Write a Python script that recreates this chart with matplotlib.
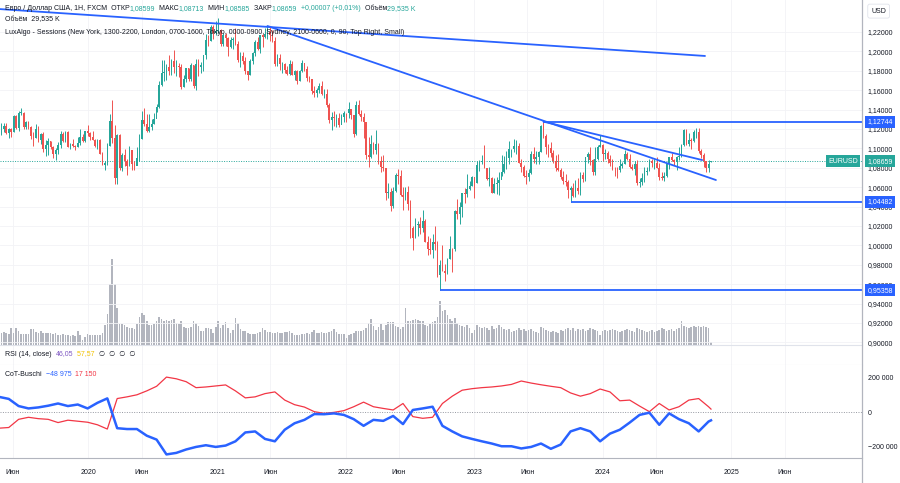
import numpy as np
import pandas as pd
import matplotlib
matplotlib.use("Agg")
import matplotlib.pyplot as plt
import matplotlib.dates as mdates
from matplotlib.lines import Line2D
import matplotlib.transforms as mtrans

plt.rcParams['font.family'] = ['Liberation Sans', 'DejaVu Sans']

# ---------------- data ----------------
first_week = "2019-04-22"
first_open = 1.1245
last_open = 1.08599

closes = [
    # 2019
    1.1150, 1.1200, 1.1235, 1.1157, 1.1205, 1.1170, 1.1333, 1.1210, 1.1370, 1.1370,
    1.1225, 1.1270, 1.1220, 1.1127, 1.1110, 1.1200, 1.1090, 1.1145, 1.0990, 1.1030,
    1.1075, 1.1015, 1.0940, 1.0980, 1.1040, 1.1145, 1.1080, 1.1165, 1.1018, 1.1050,
    1.1020, 1.1015, 1.1060, 1.1120, 1.1080, 1.1175, 1.1160,
    # 2020
    1.1120, 1.1090, 1.1025, 1.1090, 1.0945, 1.0830, 1.0845, 1.1025, 1.1285, 1.1105,
    1.0690, 1.1140, 1.0800, 1.0935, 1.0875, 1.0820, 1.0980, 1.0840, 1.0820, 1.0900,
    1.1100, 1.1290, 1.1255, 1.1180, 1.1220, 1.1250, 1.1300, 1.1425, 1.1655, 1.1780,
    1.1785, 1.1840, 1.1795, 1.1905, 1.1840, 1.1845, 1.1840, 1.1630, 1.1715, 1.1825,
    1.1720, 1.1860, 1.1645, 1.1875, 1.1835, 1.1855, 1.1965, 1.2120, 1.2110, 1.2255,
    1.2185, 1.2215,
    # 2021
    1.2220, 1.2080, 1.2170, 1.2135, 1.2045, 1.2120, 1.2120, 1.2075, 1.1915, 1.1950,
    1.1905, 1.1795, 1.1760, 1.1900, 1.1980, 1.2095, 1.2020, 1.2165, 1.2145, 1.2180,
    1.2195, 1.2165, 1.2105, 1.1865, 1.1935, 1.1865, 1.1875, 1.1810, 1.1770, 1.1870,
    1.1760, 1.1795, 1.1700, 1.1795, 1.1880, 1.1815, 1.1725, 1.1720, 1.1595, 1.1570,
    1.1600, 1.1645, 1.1560, 1.1565, 1.1445, 1.1290, 1.1320, 1.1315, 1.1315, 1.1240,
    1.1325, 1.1370,
    # 2022
    1.1360, 1.1410, 1.1345, 1.1145, 1.1450, 1.1350, 1.1320, 1.1270, 1.0930, 1.0910,
    1.1050, 1.0985, 1.1050, 1.0875, 1.0810, 1.0800, 1.0545, 1.0550, 1.0410, 1.0560,
    1.0730, 1.0720, 1.0515, 1.0495, 1.0555, 1.0425, 1.0180, 1.0080, 1.0210, 1.0220,
    1.0180, 1.0255, 1.0040, 0.9965, 0.9955, 1.0040, 1.0015, 0.9690, 0.9800, 0.9740,
    0.9720, 0.9860, 0.9965, 0.9960, 1.0355, 1.0325, 1.0400, 1.0535, 1.0530, 1.0585,
    1.0615, 1.0705,
    # 2023
    1.0645, 1.0830, 1.0855, 1.0875, 1.0795, 1.0680, 1.0695, 1.0545, 1.0635, 1.0640,
    1.0670, 1.0760, 1.0840, 1.0905, 1.0990, 1.0990, 1.1020, 1.1020, 1.0850, 1.0805,
    1.0720, 1.0710, 1.0750, 1.0940, 1.0895, 1.0910, 1.0965, 1.1230, 1.1125, 1.1015,
    1.1005, 1.0950, 1.0870, 1.0795, 1.0775, 1.0700, 1.0660, 1.0655, 1.0575, 1.0590,
    1.0510, 1.0595, 1.0565, 1.0730, 1.0685, 1.0915, 1.0940, 1.0885, 1.0760, 1.0895,
    1.1010, 1.1040,
    # 2024
    1.0940, 1.0950, 1.0895, 1.0850, 1.0790, 1.0785, 1.0775, 1.0820, 1.0835, 1.0940,
    1.0890, 1.0810, 1.0790, 1.0835, 1.0640, 1.0655, 1.0695, 1.0760, 1.0770, 1.0870,
    1.0845, 1.0850, 1.0800, 1.0705, 1.0690, 1.0715, 1.0840, 1.0910, 1.0880, 1.0855,
    1.0910, 1.0920, 1.1030, 1.1190, 1.1050, 1.1085, 1.1075, 1.1165, 1.1165, 1.0975,
    1.0935, 1.0865, 1.0795, 1.0835, 1.08659,
]

highs = [
    1.1265, 1.1265, 1.1265, 1.1265, 1.1215, 1.1215, 1.1348, 1.1345, 1.1385, 1.1412,
    1.1380, 1.1285, 1.1285, 1.1230, 1.1165, 1.1250, 1.1230, 1.1160, 1.1165, 1.1085,
    1.1110, 1.1075, 1.1025, 1.1000, 1.1065, 1.1180, 1.1165, 1.1175, 1.1175, 1.1060,
    1.1095, 1.1030, 1.1115, 1.1200, 1.1145, 1.1180, 1.1240,
    1.1170, 1.1175, 1.1100, 1.1100, 1.1095, 1.0965, 1.0865, 1.1055, 1.1355, 1.1495,
    1.1240, 1.1150, 1.1145, 1.0950, 1.0990, 1.0890, 1.1020, 1.0980, 1.0875, 1.1010,
    1.1145, 1.1385, 1.1420, 1.1350, 1.1350, 1.1305, 1.1370, 1.1455, 1.1690, 1.1910,
    1.1915, 1.1865, 1.1965, 1.1925, 1.2011, 1.1915, 1.1885, 1.1870, 1.1755, 1.1830,
    1.1830, 1.1880, 1.1860, 1.1920, 1.1920, 1.1890, 1.1965, 1.2175, 1.2165, 1.2275,
    1.2270, 1.2310,
    1.2349, 1.2230, 1.2190, 1.2190, 1.2150, 1.2150, 1.2145, 1.2243, 1.2110, 1.1990,
    1.1990, 1.1945, 1.1800, 1.1925, 1.1995, 1.2115, 1.2150, 1.2170, 1.2180, 1.2245,
    1.2265, 1.2255, 1.2218, 1.2150, 1.1975, 1.1975, 1.1895, 1.1880, 1.1850, 1.1910,
    1.1900, 1.1805, 1.1805, 1.1810, 1.1910, 1.1885, 1.1845, 1.1750, 1.1720, 1.1640,
    1.1625, 1.1670, 1.1690, 1.1615, 1.1610, 1.1465, 1.1375, 1.1385, 1.1355, 1.1360,
    1.1350, 1.1385,
    1.1370, 1.1482, 1.1395, 1.1335, 1.1485, 1.1495, 1.1395, 1.1365, 1.1235, 1.1120,
    1.1135, 1.1070, 1.1185, 1.1055, 1.0925, 1.0935, 1.0800, 1.0640, 1.0595, 1.0605,
    1.0750, 1.0785, 1.0775, 1.0600, 1.0605, 1.0615, 1.0465, 1.0200, 1.0280, 1.0255,
    1.0295, 1.0370, 1.0270, 1.0095, 1.0080, 1.0115, 1.0195, 1.0050, 0.9850, 0.9999,
    0.9810, 0.9875, 1.0095, 0.9975, 1.0365, 1.0480, 1.0450, 1.0545, 1.0595, 1.0735,
    1.0660, 1.0715,
    1.0710, 1.0875, 1.0885, 1.0930, 1.1033, 1.0800, 1.0805, 1.0705, 1.0690, 1.0700,
    1.0760, 1.0930, 1.0925, 1.0975, 1.1075, 1.0990, 1.1095, 1.1090, 1.1060, 1.0890,
    1.0825, 1.0780, 1.0790, 1.0970, 1.1010, 1.0975, 1.0975, 1.1245, 1.1276, 1.1150,
    1.1045, 1.1065, 1.0985, 1.0930, 1.0945, 1.0800, 1.0770, 1.0735, 1.0675, 1.0610,
    1.0640, 1.0670, 1.0695, 1.0755, 1.0755, 1.0915, 1.0965, 1.1015, 1.0895, 1.1010,
    1.1040, 1.1140,
    1.1045, 1.0995, 1.0970, 1.0935, 1.0895, 1.0810, 1.0805, 1.0890, 1.0855, 1.0980,
    1.0965, 1.0942, 1.0840, 1.0875, 1.0885, 1.0690, 1.0750, 1.0810, 1.0810, 1.0895,
    1.0895, 1.0890, 1.0915, 1.0850, 1.0760, 1.0760, 1.0845, 1.0915, 1.0950, 1.0895,
    1.0925, 1.1010, 1.1045, 1.1200, 1.1200, 1.1155, 1.1110, 1.1190, 1.1215, 1.1210,
    1.0995, 1.0955, 1.0870, 1.0885, 1.08713,
]

lows = [
    1.1110, 1.1135, 1.1165, 1.1150, 1.1105, 1.1115, 1.1165, 1.1200, 1.1180, 1.1345,
    1.1205, 1.1195, 1.1200, 1.1102, 1.1027, 1.1105, 1.1065, 1.1050, 1.0965, 1.0925,
    1.0927, 1.0990, 1.0905, 1.0880, 1.0940, 1.1000, 1.1070, 1.1070, 1.1010, 1.0990,
    1.1010, 1.0980, 1.1010, 1.1040, 1.1065, 1.1065, 1.1125,
    1.1085, 1.1085, 1.1015, 1.0990, 1.0940, 1.0825, 1.0777, 1.0830, 1.1025, 1.1055,
    1.0636, 1.0635, 1.0780, 1.0770, 1.0815, 1.0727, 1.0815, 1.0780, 1.0775, 1.0870,
    1.0870, 1.1095, 1.1235, 1.1170, 1.1165, 1.1185, 1.1255, 1.1375, 1.1420, 1.1640,
    1.1695, 1.1710, 1.1755, 1.1755, 1.1780, 1.1750, 1.1735, 1.1612, 1.1630, 1.1685,
    1.1690, 1.1690, 1.1622, 1.1603, 1.1745, 1.1780, 1.1800, 1.1925, 1.2060, 1.2110,
    1.2130, 1.2170,
    1.2190, 1.2055, 1.2055, 1.2060, 1.1952, 1.2040, 1.2020, 1.2065, 1.1895, 1.1835,
    1.1875, 1.1762, 1.1704, 1.1760, 1.1870, 1.1950, 1.2015, 1.1985, 1.2050, 1.2135,
    1.2130, 1.2105, 1.2095, 1.1845, 1.1850, 1.1807, 1.1780, 1.1780, 1.1752, 1.1755,
    1.1755, 1.1705, 1.1665, 1.1690, 1.1790, 1.1800, 1.1700, 1.1680, 1.1565, 1.1530,
    1.1525, 1.1575, 1.1555, 1.1515, 1.1430, 1.1265, 1.1185, 1.1235, 1.1225, 1.1220,
    1.1265, 1.1275,
    1.1270, 1.1310, 1.1305, 1.1122, 1.1140, 1.1340, 1.1280, 1.1105, 1.0890, 1.0805,
    1.0900, 1.0945, 1.0945, 1.0835, 1.0755, 1.0765, 1.0470, 1.0490, 1.0350, 1.0390,
    1.0555, 1.0630, 1.0510, 1.0360, 1.0470, 1.0365, 1.0075, 0.9952, 1.0075, 1.0095,
    1.0120, 1.0140, 1.0035, 0.9900, 0.9910, 0.9865, 0.9955, 0.9670, 0.9536, 0.9735,
    0.9630, 0.9705, 0.9855, 0.9730, 0.9940, 1.0270, 1.0225, 1.0290, 1.0440, 1.0500,
    1.0575, 1.0610,
    1.0485, 1.0640, 1.0765, 1.0835, 1.0795, 1.0670, 1.0615, 1.0535, 1.0535, 1.0525,
    1.0515, 1.0715, 1.0745, 1.0790, 1.0835, 1.0910, 1.0960, 1.0940, 1.0845, 1.0760,
    1.0705, 1.0635, 1.0665, 1.0735, 1.0845, 1.0835, 1.0835, 1.0960, 1.1110, 1.0945,
    1.0910, 1.0910, 1.0845, 1.0765, 1.0770, 1.0685, 1.0630, 1.0615, 1.0490, 1.0448,
    1.0495, 1.0500, 1.0525, 1.0515, 1.0655, 1.0665, 1.0850, 1.0830, 1.0725, 1.0725,
    1.0885, 1.1010,
    1.0875, 1.0895, 1.0845, 1.0820, 1.0775, 1.0720, 1.0695, 1.0760, 1.0795, 1.0835,
    1.0880, 1.0800, 1.0775, 1.0725, 1.0625, 1.0600, 1.0625, 1.0650, 1.0725, 1.0765,
    1.0805, 1.0790, 1.0800, 1.0670, 1.0670, 1.0665, 1.0710, 1.0790, 1.0870, 1.0825,
    1.0775, 1.0880, 1.0915, 1.1025, 1.1040, 1.1025, 1.0995, 1.1070, 1.1110, 1.0955,
    1.0905, 1.0810, 1.0760, 1.0760, 1.08585,
]

volume_k = [
    130, 120, 130, 120, 110, 170, 120, 170, 140, 110,
    110, 110, 110, 160, 160, 130, 120, 140, 120, 120,
    120, 120, 110, 120, 100, 100, 110, 100, 100, 90,
    100, 90, 140, 100, 50, 80, 110, 100, 100, 100,
    100, 100, 120, 200, 310, 610, 860, 610, 370, 210,
    210, 200, 180, 170, 170, 160, 210, 280, 320, 300,
    240, 200, 200, 210, 240, 280, 260, 240, 250, 240,
    250, 260, 220, 210, 240, 180, 170, 170, 180, 240,
    220, 190, 140, 140, 170, 170, 160, 120, 180, 240,
    170, 200, 230, 170, 120, 150, 270, 220, 160, 140,
    140, 120, 110, 110, 110, 120, 130, 170, 150, 130,
    130, 120, 120, 130, 120, 120, 130, 130, 140, 120,
    100, 100, 100, 110, 110, 120, 110, 130, 150, 120,
    120, 130, 120, 120, 130, 140, 160, 130, 110, 110,
    110, 70, 100, 110, 120, 140, 140, 140, 150, 170,
    220, 260, 190, 150, 180, 210, 150, 200, 230, 230,
    230, 190, 180, 160, 180, 370, 240, 240, 250, 260,
    250, 240, 240, 200, 190, 210, 230, 240, 280, 440,
    340, 350, 300, 260, 240, 270, 220, 200, 190, 180,
    200, 170, 120,
    150, 200, 180, 170, 180, 170, 150, 190, 160, 170,
    200, 180, 160, 150, 160, 130, 140, 150, 170, 150,
    160, 140, 150, 160, 140, 130, 120, 180, 170, 150,
    140, 130, 140, 130, 120, 150, 140, 160, 170, 150,
    170, 140, 160, 150, 160, 140, 150, 170, 160, 150,
    140, 100,
    140, 150, 140, 150, 160, 150, 140, 130, 140, 150,
    160, 150, 140, 130, 170, 160, 150, 140, 130, 140,
    150, 130, 140, 150, 170, 160, 140, 150, 160, 140,
    160, 170, 240, 190, 180, 170, 180, 190, 180, 190,
    180, 190, 180, 170, 29.535,
]

# CoT-Buschi, thousands of contracts, one value every 4 weeks (last = latest week)
cot_step = 4
cot_blue_k = [
    89, 77, 35, 21, 27, 37, 50, 35, 44, 21, 54, 80, -95, -100, -100, -139,
    -162, -249, -240, -220, -205, -195, -205, -197, -172, -120, -114, -158,
    -172, -104, -66, -46, -12, -13, -8, -17, -42, -81, -46, -52, -23, -71,
    12, 21, 31, -81, -114, -143, -158, -172, -185, -201, -201, -214, -205,
    -185, -216, -191, -114, -95, -114, -172, -127, -104, -62, -17, -4, -75,
    -8, -42, -66, -114, -56, -48.975,
]
cot_red_k = [
    -95, -91, -43, -31, -39, -43, -62, -48, -54, -60, -75, -100, 79, 89, 101,
    124, 151, 205, 195, 178, 143, 147, 153, 159, 124, 83, 89, 108, 118, 70,
    43, 29, 2, -8, -2, 8, 31, 58, 31, 21, 12, 50, -27, -37, -31, 50, 93, 128,
    137, 143, 147, 153, 162, 182, 170, 160, 151, 143, 112, 93, 108, 135, 118,
    66, 70, 35, 2, 50, 12, 31, 70, 79, 31, 17.15,
]

time_labels = [("2019-06-01", "Июн"), ("2020-01-01", "2020"), ("2020-06-01", "Июн"),
               ("2021-01-01", "2021"), ("2021-06-01", "Июн"), ("2022-01-01", "2022"),
               ("2022-06-01", "Июн"), ("2023-01-01", "2023"), ("2023-06-01", "Июн"),
               ("2024-01-01", "2024"), ("2024-06-01", "Июн"), ("2025-01-01", "2025"),
               ("2025-06-01", "Июн")]

price_ticks = [0.90, 0.92, 0.94, 0.96, 0.98, 1.00, 1.02, 1.04, 1.06, 1.08,
               1.10, 1.12, 1.14, 1.16, 1.18, 1.20, 1.22]
cot_ticks = [200000, 0, -200000]
cot_tick_labels = ["200 000", "0", "\u2212200 000"]

# horizontal levels: (start, price)
levels = [("2023-07-17", 1.12744), ("2023-10-02", 1.04482), ("2022-09-26", 0.95358)]
# trend lines: ((date, price), (date, price))
trends = [(("2019-04-22", 1.2437), ("2024-10-18", 1.1953)),
          (("2021-05-24", 1.2262), ("2024-11-18", 1.0674)),
          (("2023-07-17", 1.1276), ("2024-10-10", 1.0880))]

last_price = 1.08659

# ---------------- colours ----------------
UP = '#26a69a'
DOWN = '#ef5350'
BLUE = '#2962ff'
TXT = '#131722'
GRID = '#f2f3f6'
SEP = '#e0e3eb'

# ---------------- figure ----------------
W, H = 900, 483
fig = plt.figure(figsize=(W / 100, H / 100), dpi=100)
fig.patch.set_facecolor('white')
RIGHT = 862


def rect(top, bottom):
    return [0, 1 - bottom / H, RIGHT / W, (bottom - top) / H]


ax = fig.add_axes(rect(0, 345))
axv = ax.twinx()
ax_rsi = fig.add_axes(rect(345, 365))
ax_cot = fig.add_axes(rect(365, 458))

weeks = pd.date_range(first_week, periods=len(closes), freq="7D")
xd = mdates.date2num(weeks)
last_x = xd[-1]
px_days = 7 / 2.464
xlim = (last_x - 711 * px_days, last_x + 151 * px_days)

opens = [first_open] + closes[:-1]
opens[-1] = last_open
o = np.array(opens)
c = np.array(closes)
h = np.array(highs)
l = np.array(lows)
colors = np.where(c >= o, UP, DOWN)

# volume (behind)
axv.bar(xd, volume_k, width=4.6, color='#b2b5be', linewidth=0, zorder=1)
axv.set_ylim(0, 3450)
axv.set_yticks([])
for s in axv.spines.values():
    s.set_visible(False)
ax.set_zorder(axv.get_zorder() + 1)
ax.patch.set_visible(False)
axv.patch.set_facecolor('white')

# candles
ax.vlines(xd, l, h, colors=colors, linewidth=0.7, zorder=3)
ax.bar(xd, np.maximum(np.abs(c - o), 0.0003), bottom=np.minimum(o, c), width=4.6,
       color=colors, linewidth=0, zorder=4)

ax.set_xlim(*xlim)
axv.set_xlim(*xlim)
ax.set_ylim(0.8973, 1.2530)

# grid
tick_x = [mdates.date2num(pd.Timestamp(d)) for d, _ in time_labels]
for a in (axv,):
    for tx in tick_x:
        a.axvline(tx, color=GRID, linewidth=0.6, zorder=0)
for a in (ax_rsi, ax_cot):
    for tx in tick_x:
        a.axvline(tx, color=GRID, linewidth=0.6, zorder=0)
for p in price_ticks:
    ax.axhline(p, color=GRID, linewidth=0.6, zorder=0)

# price scale
ax.yaxis.tick_right()
ax.set_yticks(price_ticks)
ax.set_yticklabels([f"{p:.5f}".replace('.', ',') for p in price_ticks])
ax.tick_params(axis='y', length=0, pad=4, labelsize=5, labelcolor=TXT)
ax.set_xticks([])
for s in ax.spines.values():
    s.set_visible(False)
ax.spines['bottom'].set_visible(True)
ax.spines['bottom'].set_color(SEP)
ax.spines['bottom'].set_linewidth(0.8)

# current price dotted line
ax.axhline(last_price, color=UP, linewidth=0.7, linestyle=(0, (1, 1.5)), zorder=2)

# levels
for d, p in levels:
    ax.hlines(p, mdates.date2num(pd.Timestamp(d)), xlim[1], color=BLUE, linewidth=1.3, zorder=5)
# trend lines
for (d1, p1), (d2, p2) in trends:
    ax.plot([mdates.date2num(pd.Timestamp(d1)), mdates.date2num(pd.Timestamp(d2))], [p1, p2],
            color=BLUE, linewidth=1.3, zorder=5, solid_capstyle='round')

# price labels on scale
for d, p in levels:
    ax.annotate(f"{p:.5f}".replace('.', ','), xy=(1, p), xycoords=('axes fraction', 'data'),
                xytext=(4, 0), textcoords='offset points', ha='left', va='center',
                fontsize=5, color='white', zorder=20, annotation_clip=False,
                bbox=dict(boxstyle='square,pad=0.35', fc=BLUE, ec='none'))
ax.annotate(f"{last_price:.5f}".replace('.', ','), xy=(1, last_price),
            xycoords=('axes fraction', 'data'), xytext=(4, 0), textcoords='offset points',
            ha='left', va='center', fontsize=5, color='white', zorder=20, annotation_clip=False,
            bbox=dict(boxstyle='square,pad=0.35', fc=UP, ec='none'))
ax.annotate("EURUSD", xy=(1, last_price), xycoords=('axes fraction', 'data'),
            xytext=(-3, 0), textcoords='offset points', ha='right', va='center',
            fontsize=5, color='white', zorder=20, annotation_clip=False,
            bbox=dict(boxstyle='square,pad=0.35', fc=UP, ec='none'))
ax.annotate("USD", xy=(1, 1), xycoords='axes fraction', xytext=(12, -8),
            textcoords='offset points', ha='center', va='center', fontsize=5, color=TXT,
            annotation_clip=False,
            bbox=dict(boxstyle='round,pad=0.5,rounding_size=0.3', fc='white', ec=SEP, lw=0.6))


# legends
def chain(axis, x, y, parts, fs=5):
    t = axis.text(x, y, parts[0][0], color=parts[0][1], fontsize=fs, transform=axis.transAxes,
                  va='center', ha='left', zorder=30)
    for s, col in parts[1:]:
        t = axis.annotate(s, xy=(1, 0.5), xycoords=t, va='center', ha='left', color=col,
                          fontsize=fs, zorder=30)


def yfrac(axis_top, axis_bottom, ypx):
    return 1 - (ypx - axis_top) / (axis_bottom - axis_top)


chain(ax, 5 / RIGHT, yfrac(0, 345, 9), [
    ("Евро / Доллар США, 1Н, FXCM  ОТКР", TXT), ("1,08599", UP), ("  МАКС", TXT),
    ("1,08713", UP), ("  МИН", TXT), ("1,08585", UP), ("  ЗАКР", TXT), ("1,08659", UP),
    ("  +0,00007 (+0,01%)", UP), ("  Объём", TXT), ("29,535 K", UP)])
chain(ax, 5 / RIGHT, yfrac(0, 345, 20), [("Объём  29,535 K", TXT)])
chain(ax, 5 / RIGHT, yfrac(0, 345, 32), [
    ("LuxAlgo - Sessions (New York, 1300-2200, London, 0700-1600, Tokyo, 0000-0900, "
     "Sydney, 2100-0600, 0, 90, Top Right, Small)", TXT)])

# RSI pane (collapsed)
ax_rsi.set_xlim(*xlim)
ax_rsi.set_ylim(0, 1)
ax_rsi.set_xticks([])
ax_rsi.set_yticks([])
for s in ax_rsi.spines.values():
    s.set_visible(False)
ax_rsi.spines['bottom'].set_visible(True)
ax_rsi.spines['bottom'].set_color(SEP)
chain(ax_rsi, 5 / RIGHT, 0.55, [("RSI (14, close)  ", TXT), ("46,05", '#7e57c2'),
                                ("  57,57", '#f2c200'), ("  \u2205  \u2205  \u2205  \u2205", TXT)])

# CoT pane
cot_x = list(xd[::cot_step]) + [xd[-1]]
ax_cot.plot(cot_x, np.array(cot_red_k) * 1000, color='#f23645', linewidth=0.9, zorder=3)
ax_cot.plot(cot_x, np.array(cot_blue_k) * 1000, color=BLUE, linewidth=1.8, zorder=4)
ax_cot.axhline(0, color='#9598a1', linewidth=0.7, linestyle=(0, (1, 1.5)), zorder=2)
ax_cot.set_xlim(*xlim)
ax_cot.set_ylim(-270000, 276000)
ax_cot.yaxis.tick_right()
ax_cot.set_yticks(cot_ticks)
ax_cot.set_yticklabels(cot_tick_labels)
ax_cot.tick_params(axis='y', length=0, pad=4, labelsize=5, labelcolor=TXT)
ax_cot.set_xticks(tick_x)
ax_cot.set_xticklabels([t for _, t in time_labels])
ax_cot.tick_params(axis='x', length=0, pad=8, labelsize=5, labelcolor=TXT)
for s in ax_cot.spines.values():
    s.set_visible(False)
ax_cot.spines['bottom'].set_visible(True)
ax_cot.spines['bottom'].set_color('#b2b5be')
chain(ax_cot, 5 / RIGHT, yfrac(365, 458, 375), [("CoT-Buschi  ", TXT), ("\u221248 975", BLUE),
                                                 ("  17 150", '#f23645')])

# price scale border
fig.add_artist(Line2D([RIGHT / W, RIGHT / W], [0, 1], transform=fig.transFigure,
                      color='#b2b5be', linewidth=0.9))

fig.savefig("out.png", dpi=100, facecolor='white')
